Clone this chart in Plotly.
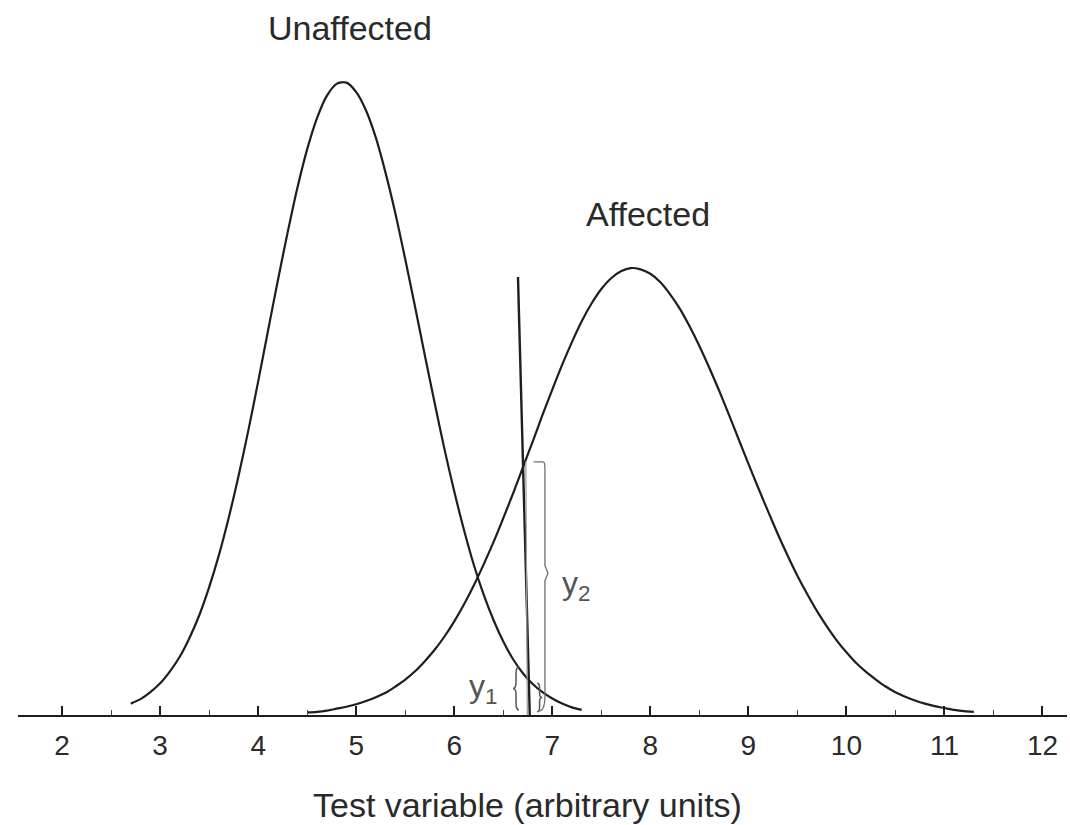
import plotly.graph_objects as go

# ---- data (heights relative to the unaffected peak) ----
unaffected_x = [2.7, 2.8, 2.9, 3.0, 3.1, 3.2, 3.3, 3.4, 3.5, 3.6, 3.7, 3.8, 3.9,
                4.0, 4.1, 4.2, 4.3, 4.4, 4.5, 4.6, 4.7, 4.8, 4.9, 5.0, 5.1, 5.2,
                5.3, 5.4, 5.5, 5.6, 5.7, 5.8, 5.9, 6.0, 6.1, 6.2, 6.3, 6.4, 6.5,
                6.6, 6.7, 6.8, 6.9, 7.0, 7.1, 7.2, 7.3]
unaffected_y = [0.018, 0.025, 0.036, 0.050, 0.069, 0.092, 0.122, 0.158, 0.202,
                0.253, 0.312, 0.378, 0.450, 0.527, 0.607, 0.686, 0.762, 0.833,
                0.894, 0.943, 0.978, 0.997, 0.999, 0.984, 0.955, 0.912, 0.856,
                0.792, 0.720, 0.645, 0.568, 0.493, 0.420, 0.353, 0.292, 0.237,
                0.190, 0.150, 0.116, 0.088, 0.066, 0.049, 0.036, 0.026, 0.018,
                0.012, 0.008]

affected_x = [4.5, 4.6, 4.7, 4.8, 4.9, 5.0, 5.1, 5.2, 5.3, 5.4, 5.5, 5.6, 5.7,
              5.8, 5.9, 6.0, 6.1, 6.2, 6.3, 6.4, 6.5, 6.6, 6.7, 6.8, 6.9, 7.0,
              7.1, 7.2, 7.3, 7.4, 7.5, 7.6, 7.7, 7.8, 7.9, 8.0, 8.1, 8.2, 8.3,
              8.4, 8.5, 8.6, 8.7, 8.8, 8.9, 9.0, 9.1, 9.2, 9.3, 9.4, 9.5, 9.6,
              9.7, 9.8, 9.9, 10.0, 10.1, 10.2, 10.3, 10.4, 10.5, 10.6, 10.7,
              10.8, 10.9, 11.0, 11.1, 11.2, 11.3]
affected_y = [0.004, 0.005, 0.007, 0.010, 0.013, 0.017, 0.022, 0.028, 0.035,
              0.045, 0.056, 0.069, 0.085, 0.103, 0.124, 0.148, 0.175, 0.205,
              0.238, 0.273, 0.311, 0.350, 0.391, 0.432, 0.474, 0.514, 0.553,
              0.589, 0.622, 0.650, 0.673, 0.690, 0.701, 0.706, 0.704, 0.697,
              0.684, 0.665, 0.642, 0.614, 0.583, 0.549, 0.513, 0.475, 0.436,
              0.397, 0.359, 0.322, 0.286, 0.252, 0.220, 0.191, 0.164, 0.140,
              0.118, 0.099, 0.082, 0.068, 0.056, 0.045, 0.036, 0.029, 0.023,
              0.018, 0.014, 0.011, 0.008, 0.006, 0.005]

tick_values = [2, 3, 4, 5, 6, 7, 8, 9, 10, 11, 12]
tick_labels = ["2", "3", "4", "5", "6", "7", "8", "9", "10", "11", "12"]

cutoff = 6.71          # position of the vertical cut-off line
cutoff_tilt = 0.06     # the drawn line leans slightly
cutoff_top = 0.692     # height of the cut-off line
y1_value = 0.058       # unaffected curve at the cut-off
y2_value = 0.40        # affected curve at the cut-off

INK = "#1e1e1e"
GREY = "#6e6e6e"
FONT = "Liberation Sans, Arial, Helvetica, sans-serif"

fig = go.Figure()
fig.add_trace(go.Scatter(x=unaffected_x, y=unaffected_y, mode="lines",
                         line=dict(color=INK, width=2.2, shape="spline", smoothing=0.8),
                         hoverinfo="skip"))
fig.add_trace(go.Scatter(x=affected_x, y=affected_y, mode="lines",
                         line=dict(color=INK, width=2.2, shape="spline", smoothing=0.8),
                         hoverinfo="skip"))

# cut-off line
fig.add_trace(go.Scatter(x=[cutoff - cutoff_tilt, cutoff + cutoff_tilt], y=[cutoff_top, 0],
                         mode="lines", line=dict(color=INK, width=2.4), hoverinfo="skip"))
# faint parallel stroke from the y2 bracket down
fig.add_trace(go.Scatter(x=[cutoff + 0.02, cutoff + 0.035], y=[y2_value, 0],
                         mode="lines", line=dict(color="#9a9a9a", width=1.2), hoverinfo="skip"))


def brace(xc, y_lo, y_hi, w):
    """curly brace path; w>0 opens to the right ('{'), w<0 ('}')"""
    mid = (y_lo + y_hi) / 2
    d = (y_hi - y_lo) * 0.15
    return (f"M {xc + w/2},{y_hi} Q {xc},{y_hi} {xc},{y_hi - d} "
            f"L {xc},{mid + d} Q {xc},{mid} {xc - w/2},{mid} "
            f"Q {xc},{mid} {xc},{mid - d} L {xc},{y_lo + d} "
            f"Q {xc},{y_lo} {xc + w/2},{y_lo}")


shapes = [
    dict(type="path", xref="x", yref="y",
         path=brace(cutoff - 0.08, 0.008, y1_value + 0.018, 0.06),
         line=dict(color="#555", width=1.5)),
    dict(type="path", xref="x", yref="y",
         path=brace(cutoff + 0.16, 0.005, y1_value - 0.008, -0.05),
         line=dict(color="#555", width=1.5)),
]
# y2 bracket
xb = cutoff + 0.215
ym = y2_value * 0.56
shapes.append(dict(
    type="path", xref="x", yref="y",
    path=(f"M {cutoff + 0.10},{y2_value} L {xb - 0.02},{y2_value} "
          f"Q {xb},{y2_value} {xb},{y2_value - 0.01} "
          f"L {xb},{ym + 0.012} L {xb + 0.03},{ym} L {xb},{ym - 0.012} "
          f"L {xb},{0.03} Q {xb},{0.008} {xb - 0.05},{0.006}"),
    line=dict(color=GREY, width=1.3)))

fig.update_layout(
    width=1070, height=825,
    margin=dict(l=18, r=3, t=10, b=110),
    paper_bgcolor="white", plot_bgcolor="white",
    showlegend=False,
    shapes=shapes,
    xaxis=dict(range=[1.55, 12.25], showline=True, linecolor=INK, linewidth=2,
               ticks="inside", ticklen=9, tickwidth=1.5, tickcolor=INK,
               tickvals=tick_values, ticktext=tick_labels,
               tickfont=dict(family=FONT, size=28, color="#2a2a2a"),
               ticklabelstandoff=4,
               minor=dict(dtick=0.5, tick0=0, ticks="inside", ticklen=5,
                          tickwidth=1.2, tickcolor="#444", showgrid=False),
               showgrid=False, zeroline=False, fixedrange=True),
    yaxis=dict(range=[0, 1.1137], visible=False, fixedrange=True),
    annotations=[
        dict(text="Unaffected", x=4.94, y=1.086, xref="x", yref="y", showarrow=False,
             font=dict(family=FONT, size=34, color="#2a2a2a")),
        dict(text="Affected", x=7.98, y=0.791, xref="x", yref="y", showarrow=False,
             font=dict(family=FONT, size=34, color="#2a2a2a")),
        dict(text="y<sub>2</sub>", x=7.24, y=0.205, xref="x", yref="y", showarrow=False,
             font=dict(family=FONT, size=32, color="#555")),
        dict(text="y<sub>1</sub>", x=6.29, y=0.042, xref="x", yref="y", showarrow=False,
             font=dict(family=FONT, size=32, color="#555")),
        dict(text="Test variable (arbitrary units)", x=0.486, y=-0.128,
             xref="paper", yref="paper", showarrow=False, yanchor="middle",
             font=dict(family=FONT, size=34, color="#2a2a2a")),
    ],
)

fig.write_html("out.html")
